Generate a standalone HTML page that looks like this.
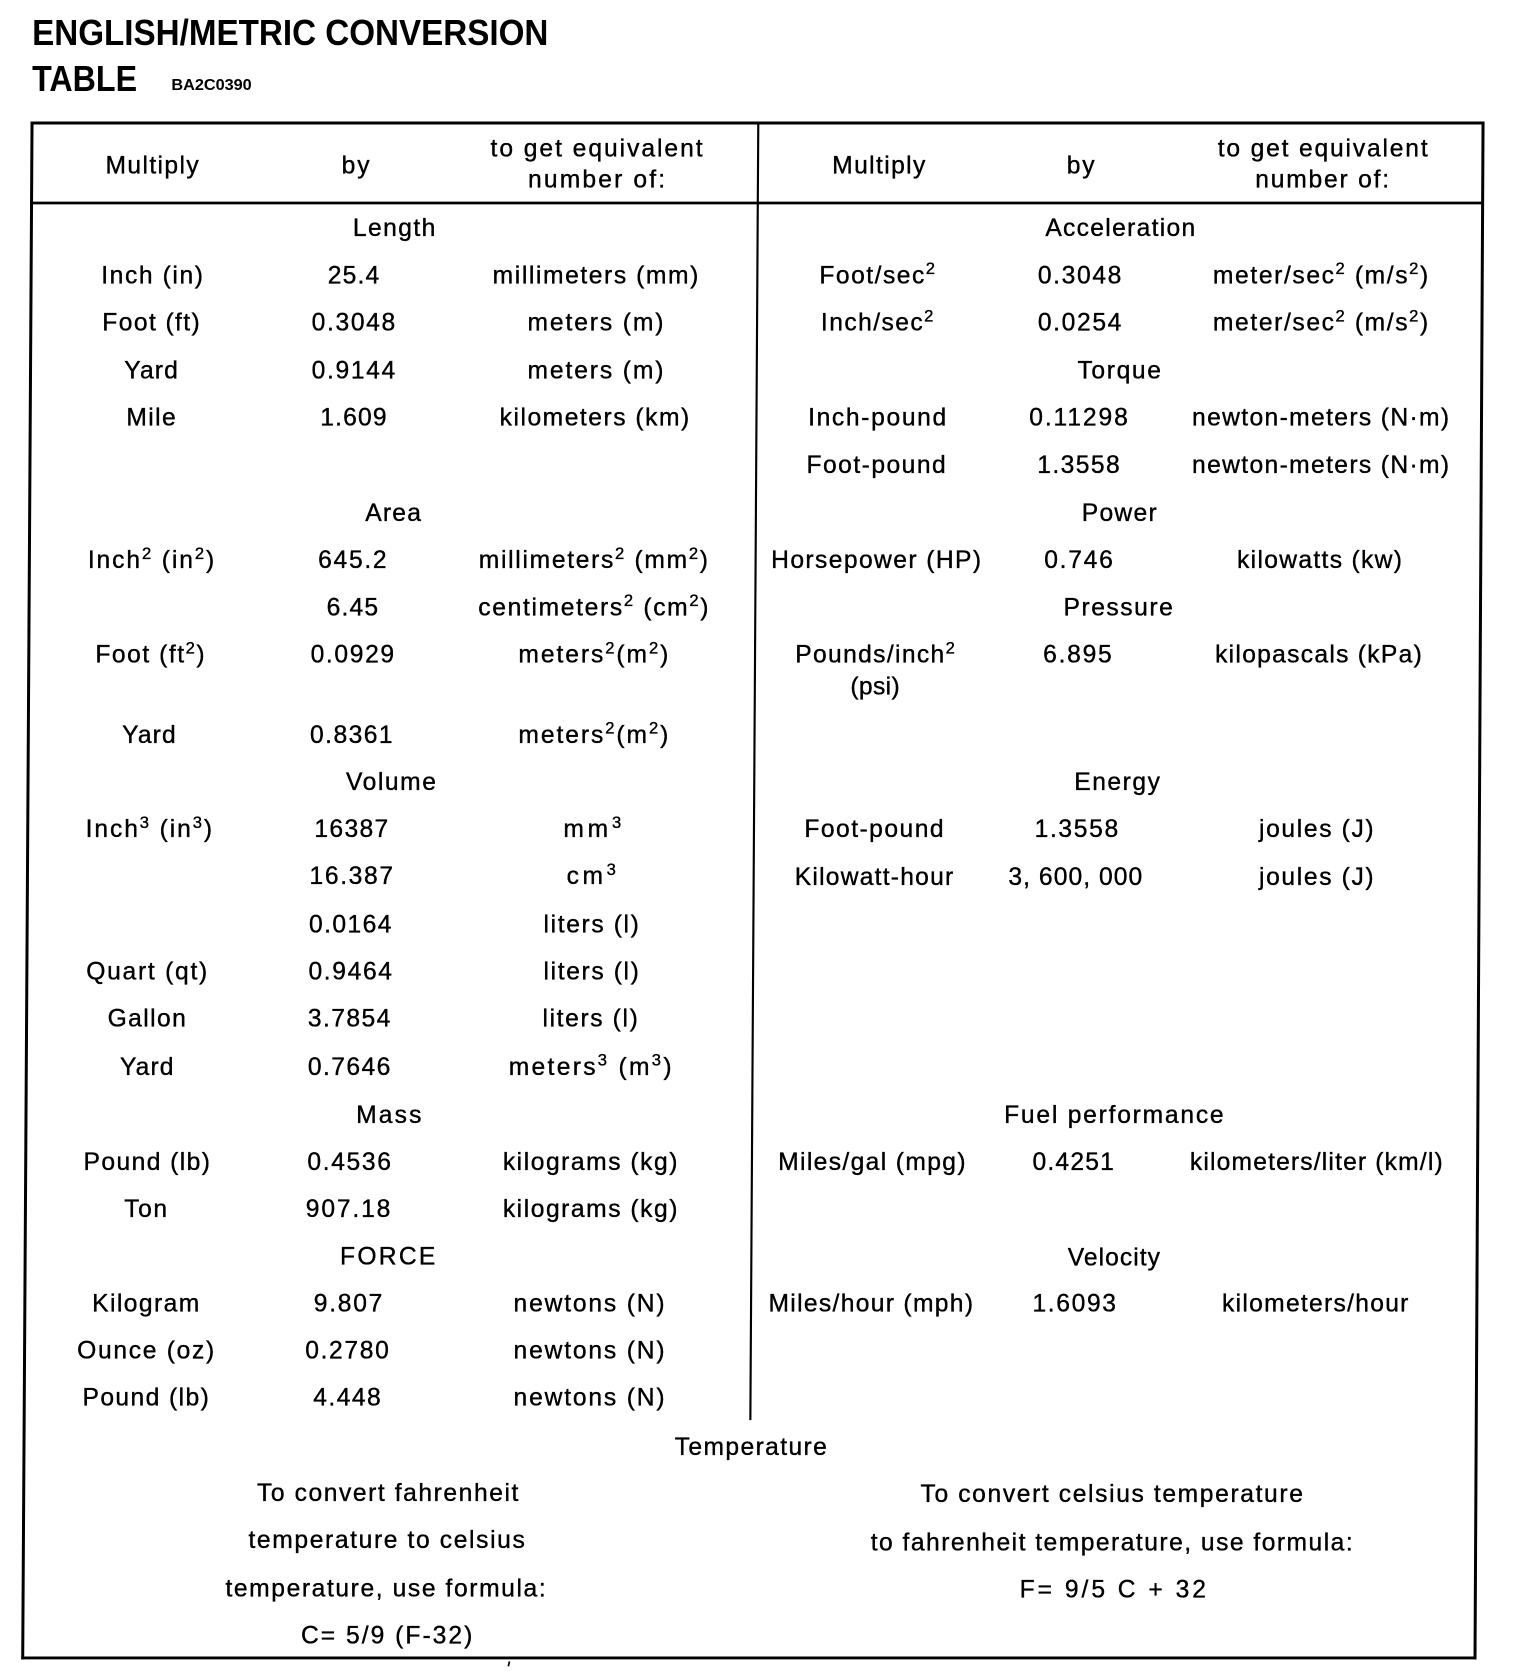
<!DOCTYPE html>
<html>
<head>
<meta charset="utf-8">
<style>
html,body{margin:0;padding:0;background:#fff;}
svg{display:block;}
text{font-family:"Liberation Sans","DejaVu Sans",sans-serif;fill:#000;}
.t{font-size:23px;stroke:#000;stroke-width:0.35px;}
.s{font-size:15.5px;}
</style>
</head>
<body>
<svg width="1520" height="1680" viewBox="0 0 1419.2 1568.6" xmlns="http://www.w3.org/2000/svg">
<rect x="0" y="0" width="1419.2" height="1568.6" fill="#fff"/>
<!-- Title -->
<text x="30" y="42" font-size="33.5" font-weight="bold" textLength="482" lengthAdjust="spacingAndGlyphs">ENGLISH/METRIC CONVERSION</text>
<text x="30" y="85" font-size="33.5" font-weight="bold" textLength="98" lengthAdjust="spacingAndGlyphs">TABLE</text>
<text x="160" y="84" font-size="15" font-weight="bold" textLength="75" lengthAdjust="spacingAndGlyphs">BA2C0390</text>

<!-- Lines -->
<g stroke="#000" fill="none" stroke-linecap="square">
<line x1="29.9" y1="114.8" x2="1384.7" y2="114.8" stroke-width="2.8"/>
<line x1="29.4" y1="189.5" x2="1384.2" y2="189.5" stroke-width="2.6"/>
<line x1="29.9" y1="114.8" x2="21.2" y2="1548" stroke-width="2.8"/>
<line x1="1384.7" y1="114.8" x2="1377.2" y2="1548" stroke-width="2.8"/>
<line x1="21.2" y1="1548" x2="1377.2" y2="1548" stroke-width="2.8"/>
<line x1="708" y1="114.8" x2="700.6" y2="1325" stroke-width="2"/>
<line x1="475.5" y1="1552" x2="474.8" y2="1555" stroke-width="1.6"/>
</g>

<g class="t">
<!-- Header -->
<text x="98.5" y="162" textLength="87" lengthAdjust="spacing">Multiply</text>
<text x="319" y="162" textLength="26" lengthAdjust="spacing">by</text>
<text x="458" y="146" textLength="198" lengthAdjust="spacing">to get equivalent</text>
<text x="493" y="175" textLength="128" lengthAdjust="spacing">number of:</text>
<text x="777" y="162" textLength="87" lengthAdjust="spacing">Multiply</text>
<text x="996" y="162" textLength="26" lengthAdjust="spacing">by</text>
<text x="1137" y="146" textLength="196" lengthAdjust="spacing">to get equivalent</text>
<text x="1172" y="175" textLength="125" lengthAdjust="spacing">number of:</text>

<!-- Left column -->
<text x="329.5" y="220.5" textLength="77" lengthAdjust="spacing">Length</text>
<text x="94.5" y="264.5" textLength="95" lengthAdjust="spacing">Inch (in)</text>
<text x="306" y="264.5" textLength="48" lengthAdjust="spacing">25.4</text>
<text x="460" y="264.5" textLength="192" lengthAdjust="spacing">millimeters (mm)</text>

<text x="95.5" y="308.5" textLength="91" lengthAdjust="spacing">Foot (ft)</text>
<text x="291" y="308.5" textLength="78" lengthAdjust="spacing">0.3048</text>
<text x="492.5" y="308.5" textLength="127" lengthAdjust="spacing">meters (m)</text>

<text x="116" y="353.5" textLength="50" lengthAdjust="spacing">Yard</text>
<text x="291" y="353.5" textLength="78" lengthAdjust="spacing">0.9144</text>
<text x="492.5" y="353.5" textLength="127" lengthAdjust="spacing">meters (m)</text>

<text x="118" y="397.5" textLength="46" lengthAdjust="spacing">Mile</text>
<text x="299" y="397.5" textLength="62" lengthAdjust="spacing">1.609</text>
<text x="466.5" y="397.5" textLength="177" lengthAdjust="spacing">kilometers (km)</text>

<text x="341" y="486.5" textLength="52" lengthAdjust="spacing">Area</text>
<text x="82" y="530.5" textLength="118" lengthAdjust="spacing">Inch<tspan class="s" dy="-8.5">2</tspan><tspan dy="8.5"> (in</tspan><tspan class="s" dy="-8.5">2</tspan><tspan dy="8.5">)</tspan></text>
<text x="297" y="530.5" textLength="64" lengthAdjust="spacing">645.2</text>
<text x="447" y="530.5" textLength="214" lengthAdjust="spacing">millimeters<tspan class="s" dy="-8.5">2</tspan><tspan dy="8.5"> (mm</tspan><tspan class="s" dy="-8.5">2</tspan><tspan dy="8.5">)</tspan></text>

<text x="305" y="574.5" textLength="48" lengthAdjust="spacing">6.45</text>
<text x="446.5" y="574.5" textLength="215" lengthAdjust="spacing">centimeters<tspan class="s" dy="-8.5">2</tspan><tspan dy="8.5"> (cm</tspan><tspan class="s" dy="-8.5">2</tspan><tspan dy="8.5">)</tspan></text>

<text x="89" y="618.5" textLength="102" lengthAdjust="spacing">Foot (ft<tspan class="s" dy="-8.5">2</tspan><tspan dy="8.5">)</tspan></text>
<text x="290" y="618.5" textLength="78" lengthAdjust="spacing">0.0929</text>
<text x="484" y="618.5" textLength="140" lengthAdjust="spacing">meters<tspan class="s" dy="-8.5">2</tspan><tspan dy="8.5">(m</tspan><tspan class="s" dy="-8.5">2</tspan><tspan dy="8.5">)</tspan></text>

<text x="114" y="693.5" textLength="50" lengthAdjust="spacing">Yard</text>
<text x="289.5" y="693.5" textLength="77" lengthAdjust="spacing">0.8361</text>
<text x="484" y="693.5" textLength="140" lengthAdjust="spacing">meters<tspan class="s" dy="-8.5">2</tspan><tspan dy="8.5">(m</tspan><tspan class="s" dy="-8.5">2</tspan><tspan dy="8.5">)</tspan></text>

<text x="323" y="737.5" textLength="84" lengthAdjust="spacing">Volume</text>
<text x="80" y="781.5" textLength="118" lengthAdjust="spacing">Inch<tspan class="s" dy="-8.5">3</tspan><tspan dy="8.5"> (in</tspan><tspan class="s" dy="-8.5">3</tspan><tspan dy="8.5">)</tspan></text>
<text x="293.5" y="781.5" textLength="69" lengthAdjust="spacing">16387</text>
<text x="526" y="781.5" textLength="54" lengthAdjust="spacing">mm<tspan class="s" dy="-8.5">3</tspan></text>

<text x="289" y="825.5" textLength="78" lengthAdjust="spacing">16.387</text>
<text x="529" y="825.5" textLength="46" lengthAdjust="spacing">cm<tspan class="s" dy="-8.5">3</tspan></text>

<text x="288.5" y="870.5" textLength="77" lengthAdjust="spacing">0.0164</text>
<text x="507.5" y="870.5" textLength="89" lengthAdjust="spacing">liters (l)</text>

<text x="80.5" y="914.5" textLength="113" lengthAdjust="spacing">Quart (qt)</text>
<text x="288" y="914.5" textLength="78" lengthAdjust="spacing">0.9464</text>
<text x="507.5" y="914.5" textLength="89" lengthAdjust="spacing">liters (l)</text>

<text x="100.5" y="958.5" textLength="73" lengthAdjust="spacing">Gallon</text>
<text x="287.5" y="958.5" textLength="77" lengthAdjust="spacing">3.7854</text>
<text x="506.5" y="958.5" textLength="89" lengthAdjust="spacing">liters (l)</text>

<text x="112" y="1003.5" textLength="50" lengthAdjust="spacing">Yard</text>
<text x="287.5" y="1003.5" textLength="77" lengthAdjust="spacing">0.7646</text>
<text x="475" y="1003.5" textLength="152" lengthAdjust="spacing">meters<tspan class="s" dy="-8.5">3</tspan><tspan dy="8.5"> (m</tspan><tspan class="s" dy="-8.5">3</tspan><tspan dy="8.5">)</tspan></text>

<text x="332.5" y="1048.5" textLength="61" lengthAdjust="spacing">Mass</text>
<text x="78" y="1092.5" textLength="118" lengthAdjust="spacing">Pound (lb)</text>
<text x="287" y="1092.5" textLength="78" lengthAdjust="spacing">0.4536</text>
<text x="469.5" y="1092.5" textLength="163" lengthAdjust="spacing">kilograms (kg)</text>

<text x="116" y="1136.5" textLength="40" lengthAdjust="spacing">Ton</text>
<text x="285.5" y="1136.5" textLength="79" lengthAdjust="spacing">907.18</text>
<text x="469.5" y="1136.5" textLength="163" lengthAdjust="spacing">kilograms (kg)</text>

<text x="317.5" y="1180.5" textLength="89" lengthAdjust="spacing">FORCE</text>
<text x="86" y="1224.5" textLength="100" lengthAdjust="spacing">Kilogram</text>
<text x="293" y="1224.5" textLength="64" lengthAdjust="spacing">9.807</text>
<text x="479.5" y="1224.5" textLength="141" lengthAdjust="spacing">newtons (N)</text>

<text x="72" y="1268.5" textLength="128" lengthAdjust="spacing">Ounce (oz)</text>
<text x="285" y="1268.5" textLength="78" lengthAdjust="spacing">0.2780</text>
<text x="479.5" y="1268.5" textLength="141" lengthAdjust="spacing">newtons (N)</text>

<text x="77" y="1312.5" textLength="118" lengthAdjust="spacing">Pound (lb)</text>
<text x="292.5" y="1312.5" textLength="63" lengthAdjust="spacing">4.448</text>
<text x="479.5" y="1312.5" textLength="141" lengthAdjust="spacing">newtons (N)</text>

<!-- Temperature -->
<text x="630" y="1358.5" textLength="142" lengthAdjust="spacing">Temperature</text>
<text x="240" y="1401.5" textLength="244" lengthAdjust="spacing">To convert fahrenheit</text>
<text x="232" y="1445.5" textLength="258" lengthAdjust="spacing">temperature to celsius</text>
<text x="210.5" y="1490.5" textLength="299" lengthAdjust="spacing">temperature, use formula:</text>
<text x="281" y="1534.5" textLength="160" lengthAdjust="spacing">C= 5/9 (F-32)</text>

<text x="859.5" y="1402.5" textLength="357" lengthAdjust="spacing">To convert celsius temperature</text>
<text x="813" y="1447.5" textLength="450" lengthAdjust="spacing">to fahrenheit temperature, use formula:</text>
<text x="952" y="1491.5" textLength="174" lengthAdjust="spacing">F= 9/5 C + 32</text>

<!-- Right column -->
<text x="976" y="220.5" textLength="140" lengthAdjust="spacing">Acceleration</text>
<text x="765" y="264.5" textLength="108" lengthAdjust="spacing">Foot/sec<tspan class="s" dy="-8.5">2</tspan></text>
<text x="969" y="264.5" textLength="78" lengthAdjust="spacing">0.3048</text>
<text x="1132.5" y="264.5" textLength="201" lengthAdjust="spacing">meter/sec<tspan class="s" dy="-8.5">2</tspan><tspan dy="8.5"> (m/s</tspan><tspan class="s" dy="-8.5">2</tspan><tspan dy="8.5">)</tspan></text>

<text x="766.5" y="308.5" textLength="105" lengthAdjust="spacing">Inch/sec<tspan class="s" dy="-8.5">2</tspan></text>
<text x="969" y="308.5" textLength="78" lengthAdjust="spacing">0.0254</text>
<text x="1132.5" y="308.5" textLength="201" lengthAdjust="spacing">meter/sec<tspan class="s" dy="-8.5">2</tspan><tspan dy="8.5"> (m/s</tspan><tspan class="s" dy="-8.5">2</tspan><tspan dy="8.5">)</tspan></text>

<text x="1006" y="353.5" textLength="78" lengthAdjust="spacing">Torque</text>
<text x="754.5" y="397.5" textLength="129" lengthAdjust="spacing">Inch-pound</text>
<text x="961" y="397.5" textLength="92" lengthAdjust="spacing">0.11298</text>
<text x="1113" y="397.5" textLength="240" lengthAdjust="spacing">newton-meters (N·m)</text>

<text x="753" y="441.5" textLength="130" lengthAdjust="spacing">Foot-pound</text>
<text x="968.5" y="441.5" textLength="77" lengthAdjust="spacing">1.3558</text>
<text x="1113" y="441.5" textLength="240" lengthAdjust="spacing">newton-meters (N·m)</text>

<text x="1010" y="486.5" textLength="70" lengthAdjust="spacing">Power</text>
<text x="720" y="530.5" textLength="196" lengthAdjust="spacing">Horsepower (HP)</text>
<text x="975" y="530.5" textLength="64" lengthAdjust="spacing">0.746</text>
<text x="1155" y="530.5" textLength="154" lengthAdjust="spacing">kilowatts (kw)</text>

<text x="993" y="574.5" textLength="102" lengthAdjust="spacing">Pressure</text>
<text x="742.5" y="618.5" textLength="149" lengthAdjust="spacing">Pounds/inch<tspan class="s" dy="-8.5">2</tspan></text>
<text x="974" y="618.5" textLength="64" lengthAdjust="spacing">6.895</text>
<text x="1134.5" y="618.5" textLength="193" lengthAdjust="spacing">kilopascals (kPa)</text>
<text x="794" y="648.5" textLength="46" lengthAdjust="spacing">(psi)</text>

<text x="1003" y="737.5" textLength="80" lengthAdjust="spacing">Energy</text>
<text x="751" y="781.5" textLength="130" lengthAdjust="spacing">Foot-pound</text>
<text x="966" y="781.5" textLength="78" lengthAdjust="spacing">1.3558</text>
<text x="1175.5" y="781.5" textLength="107" lengthAdjust="spacing">joules (J)</text>

<text x="742" y="826.5" textLength="148" lengthAdjust="spacing">Kilowatt-hour</text>
<text x="941.5" y="826.5" textLength="125" lengthAdjust="spacing">3, 600, 000</text>
<text x="1175.5" y="826.5" textLength="107" lengthAdjust="spacing">joules (J)</text>

<text x="937.5" y="1048.5" textLength="205" lengthAdjust="spacing">Fuel performance</text>
<text x="726.5" y="1092.5" textLength="175" lengthAdjust="spacing">Miles/gal (mpg)</text>
<text x="964" y="1092.5" textLength="76" lengthAdjust="spacing">0.4251</text>
<text x="1111" y="1092.5" textLength="236" lengthAdjust="spacing">kilometers/liter (km/l)</text>

<text x="997" y="1181.5" textLength="86" lengthAdjust="spacing">Velocity</text>
<text x="717.5" y="1224.5" textLength="191" lengthAdjust="spacing">Miles/hour (mph)</text>
<text x="964" y="1224.5" textLength="78" lengthAdjust="spacing">1.6093</text>
<text x="1141" y="1224.5" textLength="174" lengthAdjust="spacing">kilometers/hour</text>
</g>
</svg>
</body>
</html>
